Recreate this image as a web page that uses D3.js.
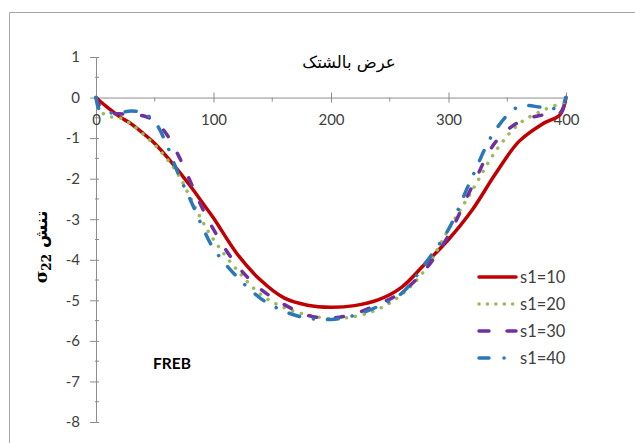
<!DOCTYPE html>
<html>
<head>
<meta charset="utf-8">
<script src="https://cdn.jsdelivr.net/npm/d3@7/dist/d3.min.js"></script>
<style>
  html, body { margin: 0; padding: 0; background: #fff; }
  svg { display: block; }
</style>
</head>
<body>
<svg id="chart" width="635" height="443"></svg>
<script>
// Positions across the width (x) at which each stress series is sampled
const widthPos = [0, 3, 10, 20, 30, 40, 50, 60, 70, 80, 90, 100, 120, 140, 160, 180, 200,
                  220, 240, 260, 280, 300, 320, 340, 360, 380, 395, 400];

// sigma_22 stress for each s1 value
const s10 = [0, -0.08, -0.25, -0.47, -0.65, -0.88, -1.13, -1.45, -1.8, -2.17, -2.57, -2.97, -3.85, -4.5,
             -4.94, -5.12, -5.17, -5.13, -4.99, -4.68, -4.1, -3.5, -2.78, -1.88, -1.08, -0.65, -0.42, 0];
const s20 = [0, -0.3, -0.46, -0.5, -0.66, -0.9, -1.17, -1.5, -1.9, -2.45, -3.02, -3.5, -4.25, -4.85,
             -5.18, -5.36, -5.45, -5.4, -5.22, -4.86, -4.25, -3.25, -2.3, -1.33, -0.65, -0.32, -0.16, -0.15];
const s30 = [0, -0.2, -0.38, -0.4, -0.41, -0.45, -0.58, -0.9, -1.42, -2.05, -2.7, -3.25, -4.14, -4.72,
             -5.1, -5.37, -5.44, -5.33, -5.1, -4.8, -4.25, -3.4, -2.2, -1.1, -0.6, -0.43, -0.38, 0];
const s40 = [0, -0.3, -0.37, -0.37, -0.33, -0.38, -0.6, -1.15, -1.88, -2.5, -3.15, -3.72, -4.42, -4.95,
             -5.27, -5.44, -5.47, -5.37, -5.15, -4.83, -4.1, -3.25, -1.97, -0.8, -0.22, -0.24, -0.25, 0];

const seriesNames = ["s1=10", "s1=20", "s1=30", "s1=40"];
const seriesValues = [s10, s20, s30, s40];
const seriesColors = ["#c00000", "#9bbb59", "#7030a0", "#2a78b8"];
const seriesDash = [null, "0.1,9", "8,19", "11,14,0.1,14"];

const xTicks = [0, 100, 200, 300, 400];
const xMinor = [50, 150, 250, 350];
const yTicks = [1, 0, -1, -2, -3, -4, -5, -6, -7, -8];
const yMinor = [0.5, -0.5, -1.5, -2.5, -3.5, -4.5, -5.5, -6.5, -7.5];

const svg = d3.select("#chart");
const axisColor = "#8c8c8c";
const labelColor = "#404040";

// chart frame
svg.append("path")
  .attr("d", "M9.5,443 L9.5,12.5 L635,12.5")
  .attr("fill", "none")
  .attr("stroke", "#a6a6a6")
  .attr("stroke-width", 1);

const x = d3.scaleLinear().domain([0, 400]).range([96, 566]);
const y = d3.scaleLinear().domain([-8, 1]).range([422, 57]);

// vertical axis
const yAxis = svg.append("g")
  .attr("transform", `translate(${x(0)},0)`)
  .call(d3.axisLeft(y).tickValues(yTicks).tickSizeInner(6).tickSizeOuter(0).tickPadding(10)
        .tickFormat(d3.format("d")));
yAxis.select(".domain").attr("stroke", axisColor);
yAxis.selectAll(".tick line").attr("stroke", axisColor).attr("x1", 3);
yAxis.selectAll(".tick text")
  .attr("fill", labelColor)
  .style("font-family", "Lato, 'Open Sans', sans-serif")
  .style("font-size", "15px")
  .text(d => d < 0 ? "-" + Math.abs(d) : d);
yAxis.selectAll(".minor")
  .data(yMinor).enter().append("line")
  .attr("x1", -1).attr("x2", 3)
  .attr("y1", d => y(d)).attr("y2", d => y(d))
  .attr("stroke", axisColor);

// horizontal axis through zero
const xAxis = svg.append("g")
  .attr("transform", `translate(0,${y(0)})`)
  .call(d3.axisBottom(x).tickValues(xTicks).tickSizeInner(5).tickSizeOuter(0).tickPadding(12));
xAxis.select(".domain").attr("stroke", axisColor);
xAxis.selectAll(".tick line").attr("stroke", axisColor).attr("y1", -5);
xAxis.selectAll(".tick text")
  .attr("fill", labelColor)
  .style("font-family", "Lato, 'Open Sans', sans-serif")
  .style("font-size", "15px");
xAxis.selectAll(".minor")
  .data(xMinor).enter().append("line")
  .attr("x1", d => x(d)).attr("x2", d => x(d))
  .attr("y1", 0).attr("y2", 4)
  .attr("stroke", axisColor);

// stress curves
const line = d3.line()
  .x((d, i) => x(widthPos[i]))
  .y(d => y(d))
  .curve(d3.curveCatmullRom.alpha(0.5));

seriesValues.forEach((vals, k) => {
  svg.append("path")
    .datum(vals)
    .attr("d", line)
    .attr("fill", "none")
    .attr("stroke", seriesColors[k])
    .attr("stroke-width", 3.5)
    .attr("stroke-linecap", "round")
    .attr("stroke-linejoin", "round")
    .attr("stroke-dasharray", seriesDash[k]);
});

// legend
const legend = svg.append("g");
seriesNames.forEach((name, k) => {
  const ly = 277 + k * 27;
  legend.append("line")
    .attr("x1", 479).attr("x2", 516)
    .attr("y1", ly).attr("y2", ly)
    .attr("stroke", seriesColors[k])
    .attr("stroke-width", 3.5)
    .attr("stroke-linecap", "round")
    .attr("stroke-dasharray", k === 1 ? "0.1,8.3" : k === 2 ? "10,18" : k === 3 ? "10,15,0.1,15" : null);
  legend.append("text")
    .attr("x", 520).attr("y", ly + 6)
    .attr("fill", labelColor)
    .style("font-family", "Lato, 'Open Sans', sans-serif")
    .style("font-size", "16.5px")
    .text(name);
});

// horizontal axis title
svg.append("text")
  .attr("x", 349).attr("y", 68)
  .attr("text-anchor", "middle")
  .attr("fill", "#000")
  .style("font-family", "'DejaVu Sans', sans-serif")
  .style("font-size", "16.5px")
  .text("عرض بالشتک");

// vertical axis title
const yTitle = svg.append("text")
  .attr("transform", "translate(47,247) rotate(-90)")
  .attr("text-anchor", "middle")
  .attr("direction", "ltr")
  .attr("fill", "#000")
  .style("font-weight", "bold");
yTitle.append("tspan")
  .style("font-family", "'DejaVu Serif', serif")
  .style("font-size", "17px")
  .text("σ");
yTitle.append("tspan")
  .attr("dy", 4)
  .style("font-family", "'DejaVu Serif', serif")
  .style("font-size", "12px")
  .text("22");
yTitle.append("tspan")
  .attr("dy", -4)
  .style("font-family", "'DejaVu Sans', sans-serif")
  .style("font-size", "17px")
  .text("\u00a0تنش");

// case label
svg.append("text")
  .attr("x", 153).attr("y", 369)
  .attr("fill", "#000")
  .style("font-family", "Lato, 'Open Sans', sans-serif")
  .style("font-size", "15.5px")
  .style("font-weight", "bold")
  .text("FREB");
</script>
</body>
</html>
